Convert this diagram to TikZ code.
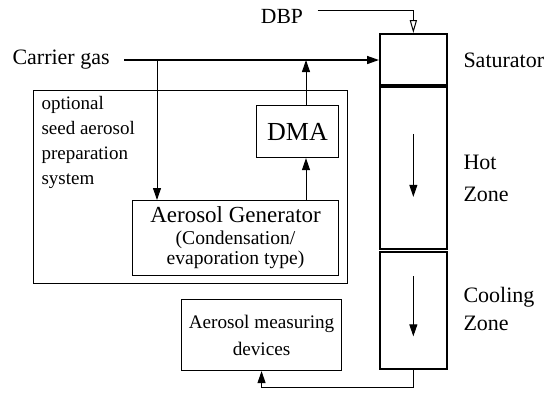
\documentclass[tikz,border=0pt]{standalone}
\usepackage{fontspec}
\setmainfont{Liberation Serif}
\usetikzlibrary{arrows.meta, positioning, calc}

\begin{document}
\begin{tikzpicture}[x=0.5pt, y=-0.5pt, line width=0.5pt,
  box/.style={draw, line width=0.55pt, inner sep=0pt, anchor=north west, align=center},
  zone/.style={draw, line width=0.85pt, inner sep=0pt, anchor=north west, minimum width=33.5pt},
  lbl/.style={inner sep=0pt, anchor=west, align=left, font=\fontsize{11}{14}\selectfont},
  flow/.style={-{Triangle[length=6pt, width=4pt]}},
  feed/.style={-{Triangle[open, length=6.5pt, width=3.6pt]}}]
\useasboundingbox (0,0) rectangle (547,393);

% column
\node[zone, minimum height=25.5pt] (sat) at (379,33) {};
\node[zone, minimum height=81pt] (hot) at (379,86) {};
\node[zone, minimum height=58.5pt] (cool) at (379,251) {};
\draw[flow] ([yshift=17pt]hot.center) -- ([yshift=-14.5pt]hot.center);
\draw[flow] ([yshift=17pt]cool.center) -- ([yshift=-13pt]cool.center);

\node[lbl] (satlbl) at (463,60) {Saturator};
\node[lbl, font=\fontsize{11}{16}\selectfont] (hotlbl) at (463,178) {Hot\\Zone};
\node[lbl] (coollbl) at (463,309) {Cooling\\Zone};

% seed aerosol system
\node[box, minimum width=157pt, minimum height=96.5pt] (opt) at (33,90) {};
\node[inner sep=0pt, anchor=north west, align=left, font=\fontsize{9.5}{12.5}\selectfont] (optlbl) at (41,96)
     {optional\\seed aerosol\\preparation\\system};
\node[box, minimum width=41pt, minimum height=26pt, font=\fontsize{13}{15}\selectfont] (dma) at (256,105) {DMA};
\node[box, minimum width=103pt, minimum height=37.5pt, font=\fontsize{9.8}{10}\selectfont] (gen) at (132,200)
     {{\fontsize{11.5}{13}\selectfont Aerosol Generator}\\[1pt](Condensation/\\evaporation type)};
\node[box, minimum width=80pt, minimum height=35.5pt, font=\fontsize{9.6}{13.5}\selectfont] (meas) at (181,299)
     {Aerosol measuring\\devices};

\node[lbl] (gas) at (12,60) {Carrier gas};
\node[inner sep=0pt, font=\fontsize{10.8}{13}\selectfont] (dbp) at (282,16) {DBP};

% flows
\coordinate (split) at (157,60);
\coordinate (join) at (306,60);
\draw[flow, line width=0.75pt] ([xshift=7pt]gas.east) -- (gas.east -| sat.west);
\draw[flow] (split) -- (split |- gen.north);
\draw[flow] (join |- gen.north) -- (join |- dma.south);
\draw[flow] (join |- dma.north) -- (join);
\draw[feed] ([xshift=7pt]dbp.east |- 0,10) -| (sat.north);
\draw[flow] (cool.south) -- ++(0,18) -| (meas.south);
\end{tikzpicture}
\end{document}
